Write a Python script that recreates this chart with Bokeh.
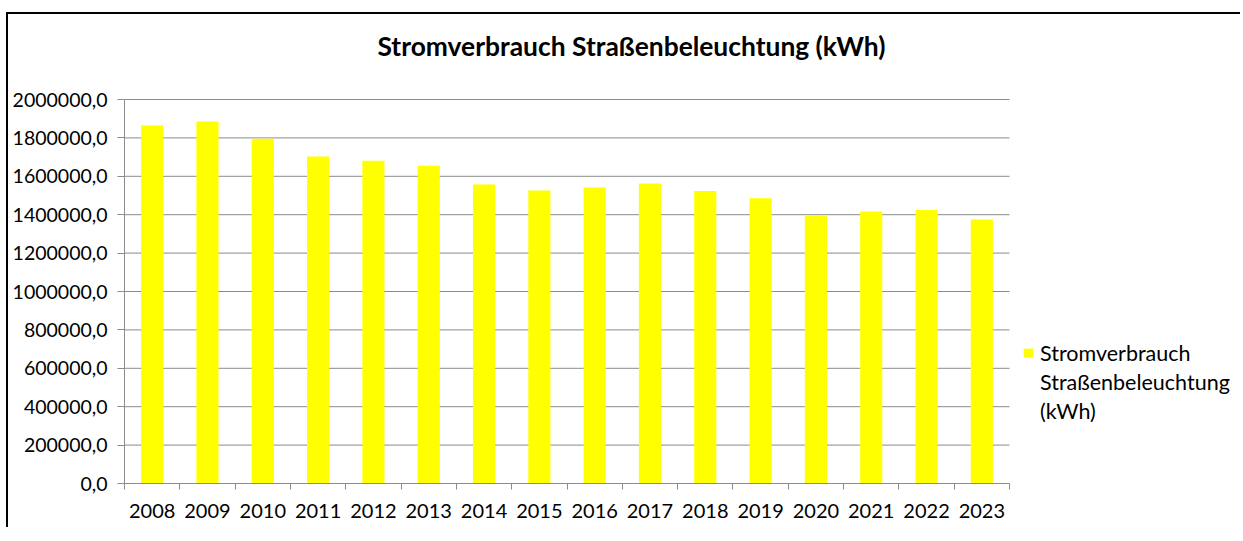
from bokeh.plotting import figure
from bokeh.models import (ColumnDataSource, FixedTicker, CustomJSTickFormatter, Legend,
                          LegendItem, Range1d, Label)
from bokeh.embed import file_html
from bokeh.resources import INLINE

years = [2008, 2009, 2010, 2011, 2012, 2013, 2014, 2015,
         2016, 2017, 2018, 2019, 2020, 2021, 2022, 2023]
consumption = [1865000, 1885000, 1795000, 1703000, 1681000, 1655000, 1557000, 1526000,
               1542000, 1562000, 1523000, 1486000, 1396000, 1417000, 1424000, 1375000]
y_ticks = [0, 200000, 400000, 600000, 800000, 1000000, 1200000, 1400000,
           1600000, 1800000, 2000000]
series_name_lines = ["Stromverbrauch", "Straßenbeleuchtung", "(kWh)"]
title_text = "Stromverbrauch Straßenbeleuchtung (kWh)"

FONT = "Lato"
GRAY = "#8c8c8c"

# layout (pixels): the frame covers title and legend area too, the plot area proper
# is the part between the axis bounds
W, H = 1234, 515
LEFT, BOTTOM = 116, 46
PLOT_W, PLOT_H = 885, 384          # width / height of the area spanned by the axes
frame_w, frame_h = W - LEFT, H - BOTTOM

x0, x1 = years[0] - 0.5, years[-1] + 0.5
y0, y1 = y_ticks[0], y_ticks[-1]
x_end = x0 + (x1 - x0) * frame_w / PLOT_W
y_end = y0 + (y1 - y0) * frame_h / PLOT_H

src = ColumnDataSource(dict(x=years, top=consumption))

p = figure(width=W, height=H, output_backend="svg", toolbar_location=None,
           x_range=Range1d(x0, x_end), y_range=Range1d(y0, y_end),
           min_border_left=LEFT, min_border_right=0, min_border_top=0,
           min_border_bottom=BOTTOM)
p.styles = {"margin-left": "6px", "margin-top": "12px",
            "border-left": "2px solid black", "border-top": "2px solid black"}
p.outline_line_color = None
p.xgrid.grid_line_color = None
p.ygrid.grid_line_color = None

# horizontal gridlines, limited to the plot area
p.segment(x0=[x0] * len(y_ticks), x1=[x1] * len(y_ticks), y0=y_ticks, y1=y_ticks,
          line_color=GRAY, line_width=1)

r = p.vbar(x="x", top="top", width=0.4, source=src, fill_color="#FFFF00", line_color=None)
# empty, invisible renderer: lets the legend label continue on further lines without a swatch
r_cont = p.vbar(x=[], top=[], width=0.4, fill_alpha=0, line_alpha=0)

# y axis
p.yaxis.bounds = (y0, y1)
p.yaxis.ticker = FixedTicker(ticks=y_ticks)
p.yaxis.formatter = CustomJSTickFormatter(code="return tick.toFixed(1).replace('.', ',');")
p.yaxis.axis_line_color = GRAY
p.yaxis.major_tick_line_color = GRAY
p.yaxis.major_tick_in = 0
p.yaxis.major_tick_out = 7
p.yaxis.minor_tick_line_color = None
p.yaxis.major_label_text_font = FONT
p.yaxis.major_label_text_font_size = "19.5px"
p.yaxis.major_label_text_color = "black"
p.yaxis.major_label_standoff = 10
p.yaxis.axis_label_standoff = 0

# x axis: labels at year centres, tick marks at category boundaries
bounds = [y - 0.5 for y in years] + [years[-1] + 0.5]
p.xaxis.bounds = (x0, x1)
p.xaxis.ticker = FixedTicker(ticks=years, minor_ticks=bounds)
p.xaxis.major_label_overrides = {y: str(y) for y in years}
p.xaxis.axis_line_color = GRAY
p.xaxis.major_tick_line_color = None
p.xaxis.major_tick_out = 6
p.xaxis.major_tick_in = 0
p.xaxis.minor_tick_line_color = GRAY
p.xaxis.minor_tick_in = 0
p.xaxis.minor_tick_out = 6
p.xaxis.major_label_text_font = FONT
p.xaxis.major_label_text_font_size = "20px"
p.xaxis.major_label_text_color = "black"
p.xaxis.major_label_standoff = 14
p.xaxis.axis_label_standoff = 0

# title (screen units, relative to the frame's bottom-left corner)
p.add_layout(Label(x=507, y=438, x_units="screen", y_units="screen", text=title_text,
                   text_align="center", text_baseline="alphabetic",
                   text_font=FONT, text_font_style="bold", text_font_size="26.4px",
                   text_color="black"))

items = [LegendItem(label=series_name_lines[0], renderers=[r])] + \
        [LegendItem(label=t, renderers=[r_cont]) for t in series_name_lines[1:]]
legend = Legend(items=items, location=(898, 58), border_line_color=None,
                background_fill_alpha=0, padding=0, margin=0, spacing=0,
                glyph_width=12, glyph_height=11, label_height=29,
                label_text_font=FONT, label_text_font_size="21.5px",
                label_text_color="black", label_standoff=6)
p.add_layout(legend)

open("out.html", "w").write(file_html(p, INLINE))
